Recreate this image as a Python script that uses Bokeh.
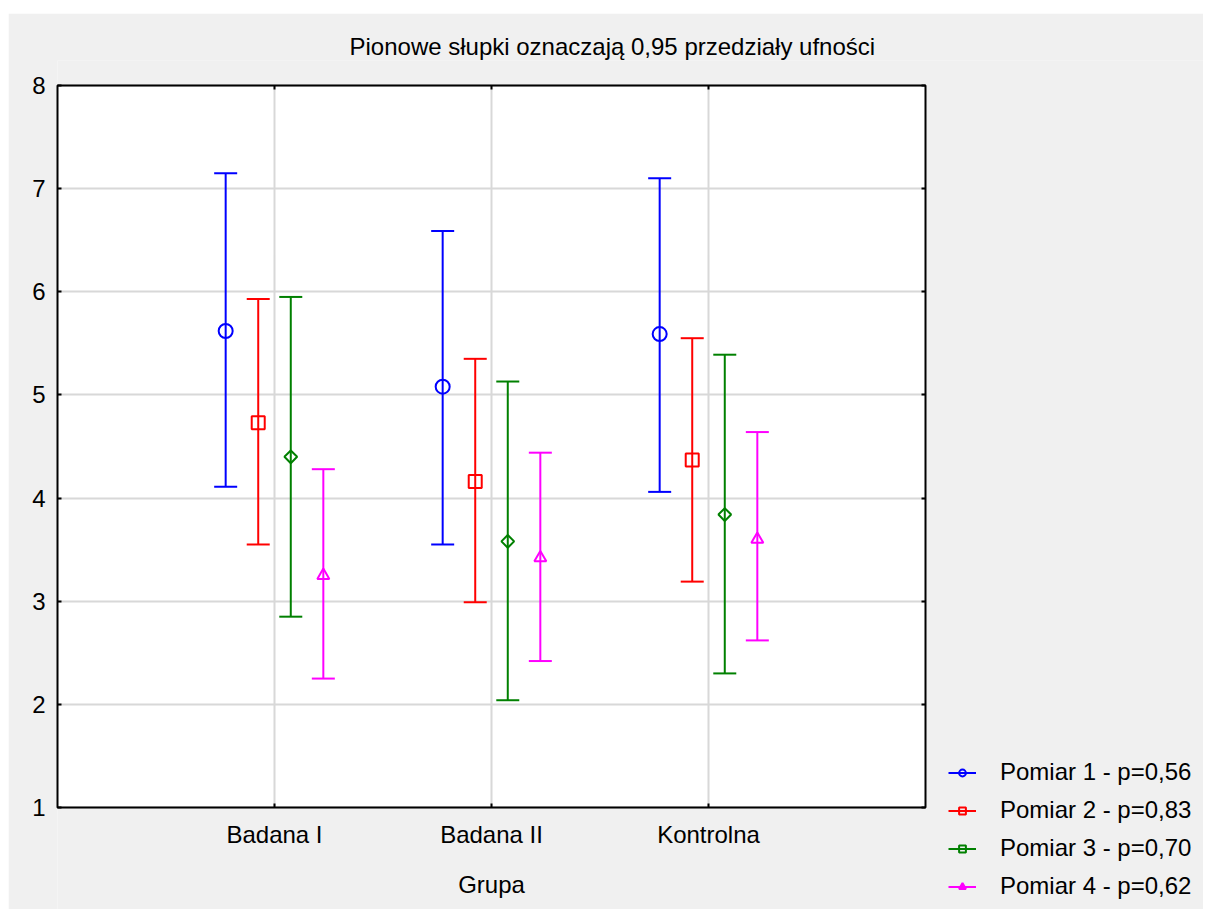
import numpy as np
from bokeh.plotting import figure
from bokeh.models import (ColumnDataSource, FixedTicker, Legend, LegendItem,
                          LinearAxis, Grid)
from bokeh.transform import dodge
from bokeh.embed import file_html
from bokeh.resources import INLINE

# ---- data ----
groups = ["Badana I", "Badana II", "Kontrolna"]
group_pos = [1, 2, 3]
series_labels = ["Pomiar 1 - p=0,56", "Pomiar 2 - p=0,83",
                 "Pomiar 3 - p=0,70", "Pomiar 4 - p=0,62"]

mean_p1 = [5.62, 5.08, 5.59]
low_p1 = [4.11, 3.55, 4.06]
high_p1 = [7.15, 6.59, 7.10]

mean_p2 = [4.73, 4.16, 4.37]
low_p2 = [3.55, 2.99, 3.19]
high_p2 = [5.93, 5.35, 5.55]

mean_p3 = [4.40, 3.58, 3.84]
low_p3 = [2.85, 2.04, 2.30]
high_p3 = [5.95, 5.13, 5.39]

mean_p4 = [3.25, 3.42, 3.60]
low_p4 = [2.25, 2.42, 2.62]
high_p4 = [4.28, 4.44, 4.64]

y_ticks = [1, 2, 3, 4, 5, 6, 7, 8]
x_lo, x_hi = 0, 4          # visible plot area (x)
y_lo, y_hi = 1, 8          # visible plot area (y)

# ---- layout (pixels) ----
W, H = 1195, 896
B_LEFT, B_TOP = 49, 47
PLOT_W, PLOT_H = 868, 722          # white plot box size
PLOT_TOP_GAP = 25                  # from canvas frame top to the plot box
frame_w = W - B_LEFT
frame_h = H - B_TOP
ppx = PLOT_W / (x_hi - x_lo)
ppy = PLOT_H / (y_hi - y_lo)
xr = (x_lo, x_lo + frame_w / ppx)
yr_top = y_hi + PLOT_TOP_GAP / ppy
yr = (yr_top - frame_h / ppy, yr_top)

# ---- style ----
FONT = "Liberation Sans"
FS = "24px"
GRAY = "#f0f0f0"
GRID = "#d8d8d8"
colors = ["#0000ff", "#ff0000", "#008000", "#ff00ff"]
markers = ["circle", "square", "square", "triangle"]
marker_sizes = [14, 13, 9, 12]
marker_angles = [0, 0, np.pi / 4, 0]
offsets = [-0.225, -0.075, 0.075, 0.225]

p = figure(width=W, height=H, x_range=xr, y_range=yr,
           output_backend="svg", toolbar_location=None,
           min_border_left=B_LEFT, min_border_right=0,
           min_border_top=B_TOP, min_border_bottom=0)
p.margin = (13, 0, 0, 8)
p.border_fill_color = GRAY
p.background_fill_color = GRAY
p.outline_line_color = None

# white plot box (drawn beneath the grid)
p.quad(left=[x_lo], right=[x_hi], bottom=[y_lo], top=[y_hi],
       fill_color="white", line_color=None, level="image")

p.title.text = "Pionowe słupki oznaczają 0,95 przedziały ufności"
p.title.text_font = FONT
p.title.text_font_size = FS
p.title.text_font_style = "normal"
p.title.text_color = "black"
p.title.align = "left"
p.title.offset = 292
p.title.standoff = 2

# axes
xa = p.xaxis[0]
xa.ticker = FixedTicker(ticks=group_pos)
xa.major_label_overrides = {pos: g for pos, g in zip(group_pos, groups)}
xa.axis_label = "Grupa"
xa.fixed_location = y_lo
xa.bounds = (x_lo, x_hi)
ya = p.yaxis[0]
ya.ticker = FixedTicker(ticks=y_ticks)
ya.bounds = (y_lo, y_hi)

top_axis = LinearAxis(ticker=FixedTicker(ticks=group_pos), fixed_location=y_hi,
                      bounds=(x_lo, x_hi))
right_axis = LinearAxis(ticker=FixedTicker(ticks=y_ticks), fixed_location=x_hi,
                        bounds=(y_lo, y_hi))
p.add_layout(top_axis, "above")
p.add_layout(right_axis, "right")

for ax in (xa, ya, top_axis, right_axis):
    ax.axis_line_color = None
    ax.major_tick_in = 4
    ax.major_tick_out = 0
    ax.major_tick_line_width = 2
    ax.minor_tick_line_color = None
    ax.major_label_text_font = FONT
    ax.major_label_text_font_size = FS
    ax.major_label_text_color = "black"
    ax.axis_label_text_font = FONT
    ax.axis_label_text_font_size = FS
    ax.axis_label_text_font_style = "normal"
    ax.axis_label_text_color = "black"
for ax in (top_axis, right_axis):
    ax.major_label_text_color = None
    ax.major_label_standoff = 0
xa.major_label_standoff = 13
xa.axis_label_standoff = 20
ya.major_label_standoff = 12

# grid lines limited to the plot box
p.xgrid.ticker = FixedTicker(ticks=group_pos)
p.ygrid.ticker = FixedTicker(ticks=y_ticks)
if "cross_bounds" in Grid.properties():
    p.xgrid.cross_bounds = (y_lo, y_hi)
    p.ygrid.cross_bounds = (x_lo, x_hi)
    for g in (p.xgrid, p.ygrid):
        g.grid_line_color = GRID
        g.grid_line_width = 2
else:
    p.xgrid.grid_line_color = None
    p.ygrid.grid_line_color = None
    p.segment(x0=group_pos, x1=group_pos, y0=y_lo, y1=y_hi,
              line_color=GRID, line_width=2, level="underlay")
    p.segment(x0=x_lo, x1=x_hi, y0=y_ticks, y1=y_ticks,
              line_color=GRID, line_width=2, level="underlay")

# black border of the plot box (on top of the grid)
p.quad(left=[x_lo], right=[x_hi], bottom=[y_lo], top=[y_hi],
       fill_alpha=0, line_color="black", line_width=2, level="overlay")

all_series = [(mean_p1, low_p1, high_p1), (mean_p2, low_p2, high_p2),
              (mean_p3, low_p3, high_p3), (mean_p4, low_p4, high_p4)]

items = []
for i, (m, lo, hi) in enumerate(all_series):
    src = ColumnDataSource(dict(x=group_pos, mean=m, low=lo, high=hi))
    xd = dodge("x", offsets[i])
    seg = p.segment(x0=xd, x1=xd, y0="low", y1="high", source=src,
                    line_color=colors[i], line_width=2)
    p.scatter(x=xd, y="low", source=src, marker="dash", size=23,
              line_color=colors[i], line_width=2)
    p.scatter(x=xd, y="high", source=src, marker="dash", size=23,
              line_color=colors[i], line_width=2)
    mk = p.scatter(x=xd, y="mean", source=src, marker=markers[i],
                   size=marker_sizes[i], angle=marker_angles[i],
                   line_color=colors[i], line_width=2, fill_alpha=0)
    items.append(LegendItem(label=series_labels[i], renderers=[seg, mk]))

legend = Legend(items=items, location=(891, 9), orientation="vertical")
legend.background_fill_alpha = 0
legend.border_line_color = None
legend.padding = 0
legend.margin = 0
legend.spacing = 10
legend.glyph_width = 28
legend.glyph_height = 17
legend.label_standoff = 24
legend.label_text_font = FONT
legend.label_text_font_size = FS
legend.label_text_color = "black"
p.add_layout(legend)

open("out.html", "w").write(file_html(p, INLINE))
